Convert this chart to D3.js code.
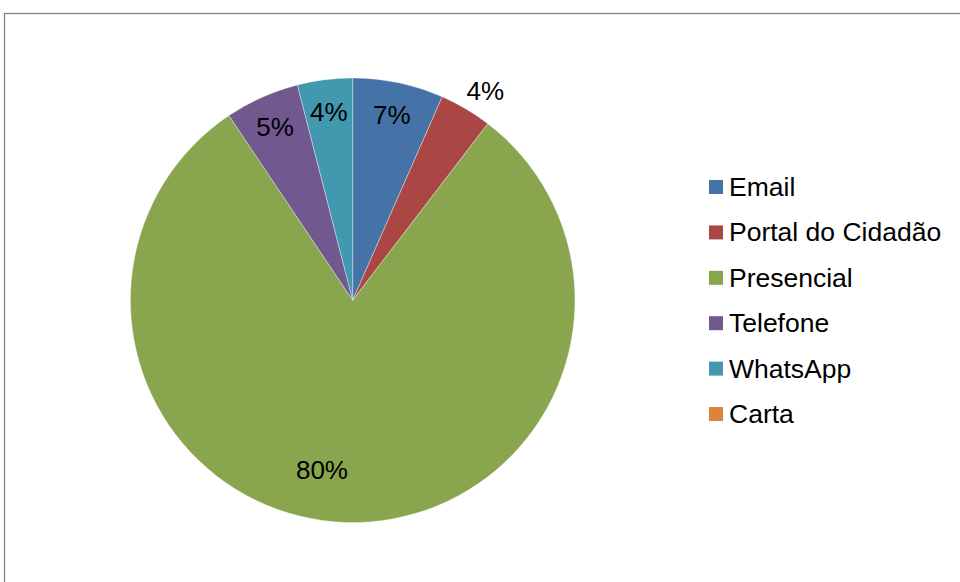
<!DOCTYPE html>
<html>
<head>
<meta charset="utf-8">
<script src="https://cdn.jsdelivr.net/npm/d3@7"></script>
<style>
  html, body { margin: 0; padding: 0; background: #fff; }
  svg { display: block; font-family: "Liberation Sans", Arial, sans-serif; }
</style>
</head>
<body>
<svg id="chart" width="960" height="582"></svg>
<script>
// Canais de atendimento (percentual)
const categories = ["Email", "Portal do Cidadão", "Presencial", "Telefone", "WhatsApp", "Carta"];
const values = [6.6, 3.8, 80.2, 5.4, 4.0, 0];
const colors = ["#4572A7", "#AA4643", "#89A54E", "#71588F", "#4198AF", "#DB843D"];

const svg = d3.select("#chart");

// chart area frame
svg.append("rect")
  .attr("x", 4.5).attr("y", 13.5)
  .attr("width", 1000).attr("height", 600)
  .attr("fill", "none")
  .attr("stroke", "#868686")
  .attr("stroke-width", 1.3);

const cx = 352.7, cy = 300.2, radius = 222.3;

const data = categories.map((c, i) => ({ name: c, value: values[i], color: colors[i] }));

const pie = d3.pie().sort(null).value(d => d.value);
const arcs = pie(data);
const arc = d3.arc().innerRadius(0).outerRadius(radius);

const g = svg.append("g").attr("transform", `translate(${cx},${cy})`);

g.selectAll("path.slice")
  .data(arcs.filter(a => a.data.value > 0))
  .join("path")
  .attr("class", "slice")
  .attr("d", arc)
  .attr("fill", d => d.data.color)
  .attr("stroke", "rgba(255,255,255,0.45)")
  .attr("stroke-width", 0.8);

// data labels: inside for most slices, outside for the narrow portal slice,
// the dominant slice label sits lower-left of its centroid
function labelPos(a) {
  let mid = (a.startAngle + a.endAngle) / 2;
  let r = 190;
  let dx = 0;
  if (a.data.name === "Portal do Cidadão") { r = 243; dx = 9; }
  if (a.data.name === "Presencial") { r = 172; mid += 8.5 * Math.PI / 180; }
  return [r * Math.sin(mid) + dx, -r * Math.cos(mid)];
}

g.selectAll("text.lbl")
  .data(arcs.filter(a => a.data.value > 0))
  .join("text")
  .attr("class", "lbl")
  .attr("x", d => labelPos(d)[0])
  .attr("y", d => labelPos(d)[1])
  .attr("dy", "0.36em")
  .attr("text-anchor", "middle")
  .attr("font-size", 26)
  .attr("fill", "#000")
  .text(d => Math.round(d.value / d3.sum(values) * 100) + "%");

// legend
const legend = svg.append("g").attr("transform", "translate(709,0)");
const rowY = d3.scalePoint().domain(categories).range([187, 414]);

const item = legend.selectAll("g.item")
  .data(data)
  .join("g")
  .attr("class", "item")
  .attr("transform", d => `translate(0,${rowY(d.name)})`);

item.append("rect")
  .attr("x", 0).attr("y", -7)
  .attr("width", 14).attr("height", 14)
  .attr("fill", d => d.color);

item.append("text")
  .attr("x", 20)
  .attr("y", 9)
  .attr("font-size", 26.5)
  .attr("fill", "#000")
  .text(d => d.name);
</script>
</body>
</html>
